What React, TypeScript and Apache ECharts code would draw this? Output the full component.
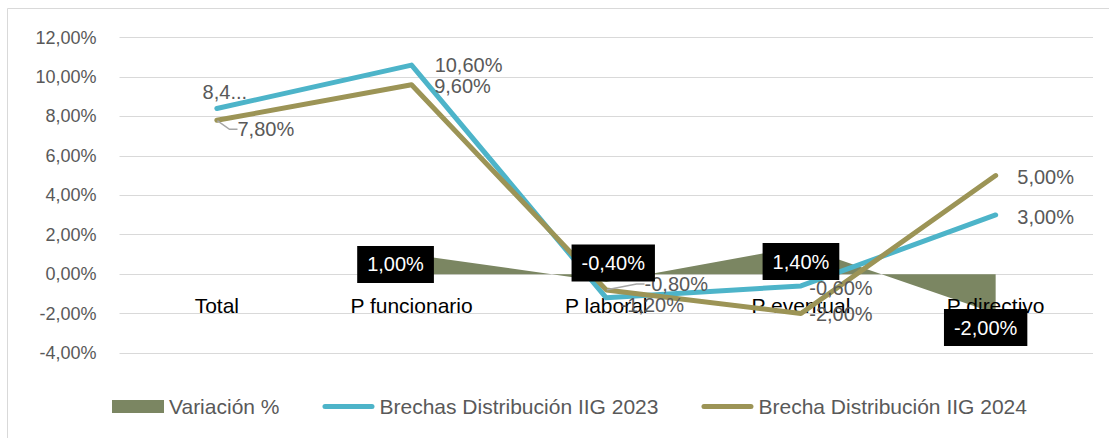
import React, { useEffect, useRef } from "react";
import * as echarts from "echarts";

const categories = ["Total", "P funcionario", "P laboral", "P eventual", "P directivo"];
const variacion: (number | null)[] = [null, 1.0, -0.4, 1.4, -2.0];
const brecha2023 = [8.4, 10.6, -1.2, -0.6, 3.0];
const brecha2024 = [7.8, 9.6, -0.8, -2.0, 5.0];
const label2023Text = ["8,4...", null, null, null, null];
const yMin = -4;
const yMax = 12;
const yInterval = 2;

const seriesNames = ["Variación %", "Brechas Distribución IIG 2023", "Brecha Distribución IIG 2024"];

// label offsets (layout only)
const offVar = [[0, 0], [-16, 10], [7, -19], [0, 15], [-10, 14]];
const off2023 = [[8, -16], [57, 0], [46, 7], [40, 2], [50, 2]];
const off2024 = [[49, 9], [51, 1], [70, -6], [40, 0], [50, 1]];
const leader2024 = [true, false, true, false, false];

const FONT = "Liberation Sans";
const GRAY = "#595959";
const C_AREA = "#7B8662";
const C_2023 = "#4DB4C9";
const C_2024 = "#9C9456";

const fmt = (v: number) => v.toFixed(2).replace(".", ",") + "%";
const lineIcon = "path://M2.5,0H49.5A2.5,2.5,0,0,1,49.5,5H2.5A2.5,2.5,0,0,1,2.5,0Z";

export default function App() {
  const ref = useRef<HTMLDivElement>(null);
  useEffect(() => {
    if (!ref.current) return;
    const chart = echarts.init(ref.current, null, { renderer: "svg" });
    const lineLabel = (texts?: (string | null)[]) => ({
      show: true,
      position: "inside",
      fontFamily: FONT,
      fontSize: 20,
      color: GRAY,
      formatter: (p: any) => (texts && texts[p.dataIndex]) || fmt(p.value),
    });
    const mkData = (vals: (number | null)[], offs: number[][]) =>
      vals.map((v, i) => ({ value: v, label: { offset: offs[i] } }));
    chart.setOption({
      animation: false,
      textStyle: { fontFamily: FONT },
      graphic: [
        {
          type: "rect",
          shape: { x: 7.5, y: 8.5, width: 1200, height: 500 },
          style: { fill: "none", stroke: "#D9D9D9", lineWidth: 1 },
          silent: true,
        },
      ],
      grid: { left: 119.5, right: 16, top: 37.5, bottom: 85, containLabel: false },
      legend: {
        left: 107,
        top: 391,
        itemWidth: 52,
        itemHeight: 13,
        itemGap: 43,
        textStyle: { fontFamily: FONT, fontSize: 21, color: GRAY },
        data: [
          { name: seriesNames[0], icon: "rect" },
          { name: seriesNames[1], icon: lineIcon },
          { name: seriesNames[2], icon: lineIcon },
        ],
      },
      xAxis: {
        type: "category",
        data: categories,
        boundaryGap: true,
        axisLine: { show: false, onZero: false },
        axisTick: { show: false },
        axisLabel: { fontFamily: FONT, fontSize: 21, color: "#000", margin: -58 },
        z: 1,
      },
      yAxis: {
        type: "value",
        min: yMin,
        max: yMax,
        interval: yInterval,
        axisLine: { show: false },
        axisTick: { show: false },
        splitLine: { lineStyle: { color: "#D9D9D9", width: 1 } },
        axisLabel: {
          fontFamily: FONT,
          fontSize: 18,
          color: GRAY,
          margin: 23,
          formatter: (v: number) => fmt(v),
        },
      },
      series: [
        {
          name: seriesNames[0],
          type: "line",
          data: variacion,
          symbol: "none",
          lineStyle: { width: 0, color: C_AREA },
          itemStyle: { color: C_AREA },
          areaStyle: { color: C_AREA, opacity: 1 },
          z: 1,
        },
        {
          name: seriesNames[1],
          type: "line",
          data: mkData(brecha2023, off2023),
          symbol: "circle",
          symbolSize: 1,
          lineStyle: { width: 5, color: C_2023, cap: "round", join: "round" },
          itemStyle: { color: C_2023 },
          label: lineLabel(label2023Text),
          z: 3,
        },
        {
          name: seriesNames[2],
          type: "line",
          data: brecha2024.map((v, i) => ({ value: v, labelLine: { show: leader2024[i] } })),
          symbol: "circle",
          symbolSize: 1,
          lineStyle: { width: 5, color: C_2024, cap: "round", join: "round" },
          itemStyle: { color: C_2024 },
          label: lineLabel(),
          labelLine: { show: false, length2: 8, lineStyle: { color: "#A6A6A6", width: 1.5 } },
          labelLayout: (p: any) => ({ dx: off2024[p.dataIndex][0], dy: off2024[p.dataIndex][1] }),
          z: 3,
        },
        {
          name: "var-labels",
          type: "line",
          data: mkData(variacion, offVar),
          symbol: "circle",
          symbolSize: 1,
          lineStyle: { width: 0, opacity: 0 },
          itemStyle: { color: "transparent" },
          label: {
            show: true,
            position: "inside",
            fontFamily: FONT,
            fontSize: 20,
            color: "#FFFFFF",
            backgroundColor: "#000000",
            padding: [9, 10, 8, 10],
            formatter: (p: any) => fmt(p.value),
          },
          z: 10,
        },
      ],
    });
    return () => chart.dispose();
  }, []);
  return (
    <div
      ref={ref}
      style={{ position: "fixed", left: 0, top: 0, width: 1109, height: 438, background: "#fff" }}
    />
  );
}
